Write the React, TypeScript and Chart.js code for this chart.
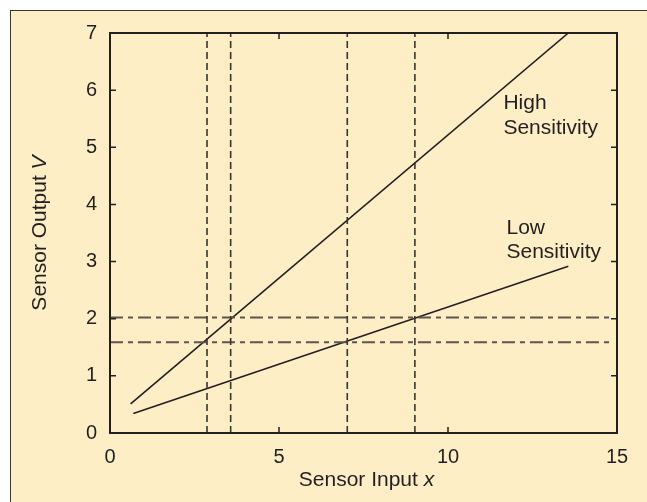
import React, { useEffect, useRef } from "react";
import { Chart, registerables } from "chart.js";
Chart.register(...registerables);

const xTickValues = [0, 5, 10, 15];
const yTickValues = [0, 1, 2, 3, 4, 5, 6, 7];
const highX = [0.61, 13.56];
const highY = [0.51, 7.0];
const lowX = [0.69, 13.56];
const lowY = [0.34, 2.92];
const verticalX = [2.87, 3.57, 7.02, 9.02];
const horizontalY = [2.02, 1.59];
const horizontalSpan = [0, 14.8];
const highLabelLines = ["High", "Sensitivity"];
const highLabelPos = { x: 11.64, y: [5.78, 5.33] };
const lowLabelLines = ["Low", "Sensitivity"];
const lowLabelPos = { x: 11.73, y: [3.59, 3.16] };
const xTitle = ["Sensor Input ", "x"];
const yTitle = ["Sensor Output ", "V"];

const FONT = "'Liberation Sans', Arial, Helvetica, sans-serif";
const INK = "#231f20";
const BG = "#fdeec6";

const decorPlugin = {
  id: "decor",
  afterDraw(chart: any) {
    const { ctx, chartArea: a, scales } = chart;
    const xs = scales.x;
    const ys = scales.y;
    ctx.save();
    ctx.strokeStyle = INK;
    ctx.lineWidth = 1.5;
    ctx.beginPath();
    xTickValues.forEach((v) => {
      if (v === xs.min || v === xs.max) return;
      const px = xs.getPixelForValue(v);
      ctx.moveTo(px, a.bottom);
      ctx.lineTo(px, a.bottom - 6);
      ctx.moveTo(px, a.top);
      ctx.lineTo(px, a.top + 6);
    });
    yTickValues.forEach((v) => {
      if (v === ys.min || v === ys.max) return;
      const py = ys.getPixelForValue(v);
      ctx.moveTo(a.left, py);
      ctx.lineTo(a.left + 6, py);
      ctx.moveTo(a.right, py);
      ctx.lineTo(a.right - 6, py);
    });
    ctx.stroke();
    ctx.lineWidth = 2;
    ctx.strokeRect(a.left, a.top, a.right - a.left, a.bottom - a.top);

    ctx.fillStyle = INK;
    ctx.font = `21px ${FONT}`;
    ctx.textAlign = "left";
    ctx.textBaseline = "middle";
    highLabelLines.forEach((t, i) => {
      ctx.fillText(t, xs.getPixelForValue(highLabelPos.x), ys.getPixelForValue(highLabelPos.y[i]));
    });
    lowLabelLines.forEach((t, i) => {
      ctx.fillText(t, xs.getPixelForValue(lowLabelPos.x), ys.getPixelForValue(lowLabelPos.y[i]));
    });

    const drawMixed = (parts: string[], cx: number, cy: number, rot: number) => {
      ctx.save();
      ctx.translate(cx, cy);
      ctx.rotate(rot);
      ctx.font = `21px ${FONT}`;
      const w1 = ctx.measureText(parts[0]).width;
      ctx.font = `italic 21px ${FONT}`;
      const w2 = ctx.measureText(parts[1]).width;
      const start = -(w1 + w2) / 2;
      ctx.textAlign = "left";
      ctx.textBaseline = "middle";
      ctx.font = `21px ${FONT}`;
      ctx.fillText(parts[0], start, 0);
      ctx.font = `italic 21px ${FONT}`;
      ctx.fillText(parts[1], start + w1, 0);
      ctx.restore();
    };
    drawMixed(xTitle, (a.left + a.right) / 2 + 3, 480, 0);
    drawMixed(yTitle, 40, (a.top + a.bottom) / 2, -Math.PI / 2);
    ctx.restore();
  },
};

export default function App() {
  const ref = useRef<HTMLCanvasElement | null>(null);
  useEffect(() => {
    if (!ref.current) return;
    const lineDs = (xv: number[], yv: number[]) => ({
      data: xv.map((x, i) => ({ x, y: yv[i] })),
      borderColor: INK,
      borderWidth: 1.6,
      pointRadius: 0,
      showLine: true,
      fill: false,
    });
    const datasets: any[] = [];
    verticalX.forEach((x) => {
      datasets.push({
        data: [{ x, y: 0 }, { x, y: 7 }],
        borderColor: "#3a3430",
        borderWidth: 1.6,
        borderDash: [7, 4],
        pointRadius: 0,
        showLine: true,
      });
    });
    horizontalY.forEach((y) => {
      datasets.push({
        data: [{ x: horizontalSpan[0], y }, { x: horizontalSpan[1], y }],
        borderColor: "#5e554d",
        borderWidth: 2,
        borderDash: [13, 5, 5, 5],
        pointRadius: 0,
        showLine: true,
      });
    });
    datasets.push(lineDs(highX, highY));
    datasets.push(lineDs(lowX, lowY));

    const chart = new Chart(ref.current, {
      type: "scatter",
      data: { datasets },
      options: {
        responsive: false,
        animation: false,
        devicePixelRatio: 1,
        layout: { padding: { left: 0, top: 33, right: 30, bottom: 0 } },
        plugins: { legend: { display: false }, tooltip: { enabled: false } },
        scales: {
          x: {
            type: "linear",
            min: 0,
            max: 15,
            afterBuildTicks: (s: any) => {
              s.ticks = xTickValues.map((v) => ({ value: v }));
            },
            afterFit: (s: any) => {
              s.height = 69;
            },
            grid: { display: false, drawTicks: false },
            border: { display: false },
            ticks: { color: INK, font: { size: 20, family: FONT }, padding: 12, maxRotation: 0 },
          },
          y: {
            type: "linear",
            min: 0,
            max: 7,
            afterBuildTicks: (s: any) => {
              s.ticks = yTickValues.map((v) => ({ value: v }));
            },
            afterFit: (s: any) => {
              s.width = 110;
            },
            grid: { display: false, drawTicks: false },
            border: { display: false },
            ticks: { color: INK, font: { size: 20, family: FONT }, padding: 13 },
          },
        },
      } as any,
      plugins: [decorPlugin],
    });
    return () => chart.destroy();
  }, []);

  return (
    <div style={{ position: "fixed", left: 0, top: 0, width: 647, height: 502, background: "#ffffff", overflow: "hidden" }}>
      <div
        style={{
          position: "absolute",
          left: 10,
          top: 10,
          right: -2,
          bottom: -2,
          background: BG,
          borderTop: "1.5px solid #3b3632",
          borderLeft: "1.5px solid #3b3632",
        }}
      />
      <canvas ref={ref} width={647} height={502} style={{ position: "absolute", left: 0, top: 0, width: 647, height: 502 }} />
    </div>
  );
}
